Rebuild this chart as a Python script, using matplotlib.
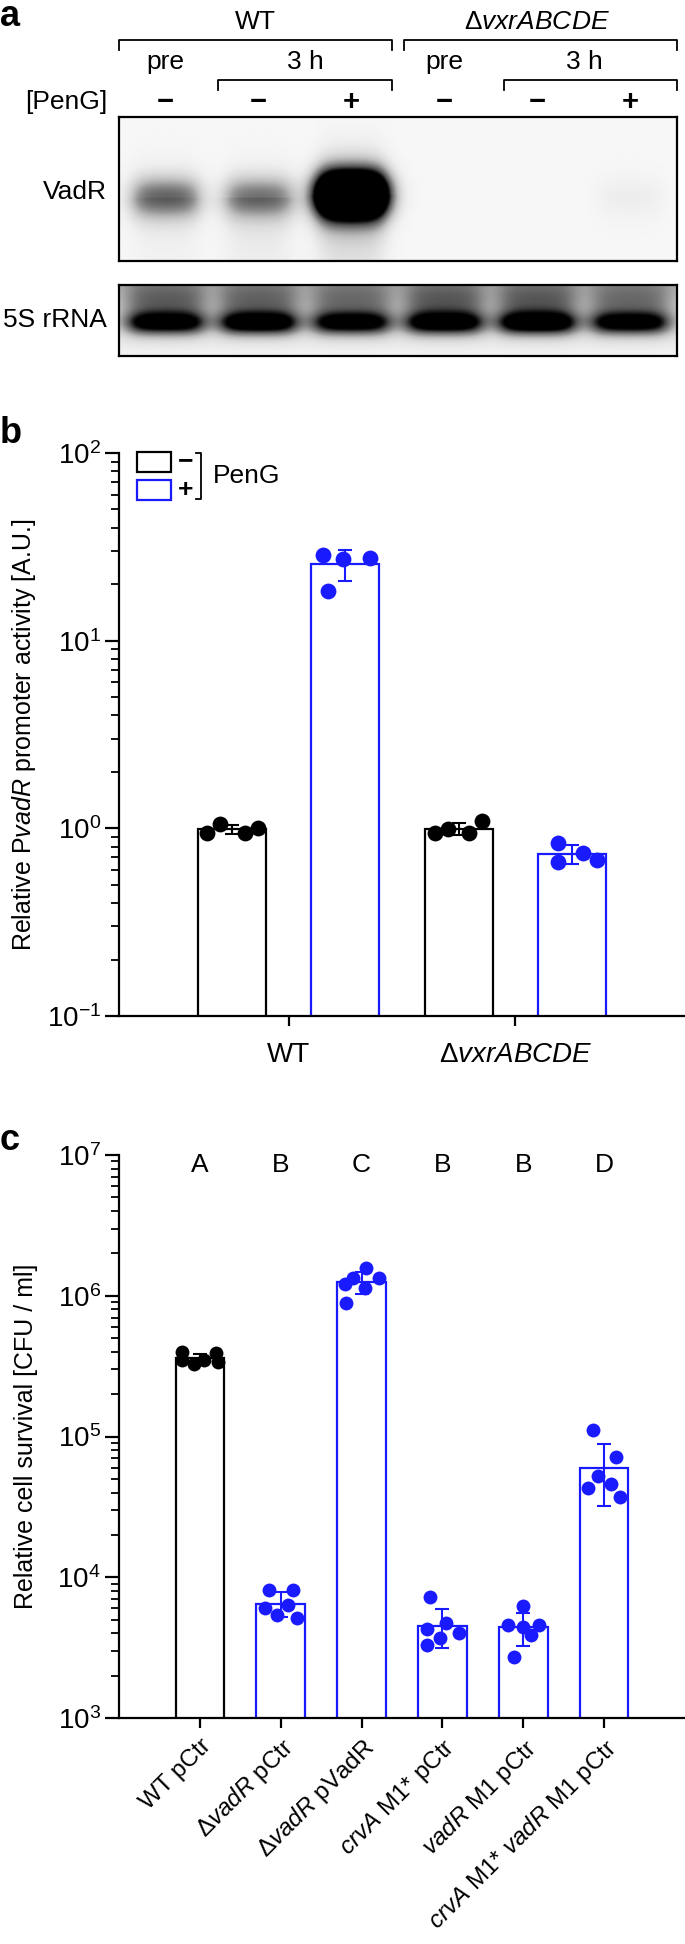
import numpy as np
import matplotlib
matplotlib.use("Agg")

import matplotlib.pyplot as plt
import matplotlib.patches as mpatches

plt.rcParams['font.family'] = ['Liberation Sans', 'DejaVu Sans']
plt.rcParams['mathtext.fontset'] = 'custom'
plt.rcParams['mathtext.rm'] = 'Liberation Sans'
plt.rcParams['mathtext.it'] = 'Liberation Sans:italic'
plt.rcParams['mathtext.bf'] = 'Liberation Sans:bold'
plt.rcParams['axes.unicode_minus'] = False

BLUE = '#1a1aff'

# ---- panel a: northern blot (band intensities per lane, 0 = none, >=1 saturated)
lane_signs = ['\u2212', '\u2212', '+', '\u2212', '\u2212', '+']
vadr_band = [0.55, 0.50, 2.5, 0.0, 0.0, 0.06]
vadr_halo = [0.08, 0.08, 0.30, 0.0, 0.0, 0.02]
vadr_smear = [0.04, 0.07, 0.12, 0.0, 0.0, 0.0]
rrna_band = [0.38, 0.36, 0.33, 0.40, 0.40, 0.33]
rrna_core = [0.85, 0.92, 0.85, 0.88, 0.95, 0.85]

# ---- panel b: relative PvadR promoter activity (4 replicates)
b_groups = ['WT', '\u0394$\\mathit{vxrABCDE}$']
b_wt_minus = [0.94, 1.06, 0.94, 1.01]
b_wt_plus = [28.7, 27.3, 27.6, 18.5]
b_del_minus = [0.94, 0.99, 0.94, 1.10]
b_del_plus = [0.84, 0.74, 0.68, 0.66]
b_jitter = [[-0.22, -0.11, 0.11, 0.23],
            [-0.20, -0.02, 0.22, -0.15],
            [-0.21, -0.09, 0.09, 0.21],
            [-0.12, 0.10, 0.22, -0.12]]

# ---- panel c: relative cell survival (6 replicates)
c_labels = ['WT pCtr',
            '\u0394$\\mathit{vadR}$ pCtr',
            '\u0394$\\mathit{vadR}$ pVadR',
            '$\\mathit{crvA}$ M1* pCtr',
            '$\\mathit{vadR}$ M1 pCtr',
            '$\\mathit{crvA}$ M1* $\\mathit{vadR}$ M1 pCtr']
c_letters = ['A', 'B', 'C', 'B', 'B', 'D']
c_wt = [4.0e5, 3.4e5, 3.3e5, 3.5e5, 3.9e5, 3.5e5]
c_dvadr = [8.1e3, 8.1e3, 6.0e3, 6.3e3, 5.4e3, 5.1e3]
c_dvadr_p = [1.22e6, 1.34e6, 1.57e6, 1.34e6, 1.14e6, 0.89e6]
c_crva = [7.2e3, 4.3e3, 4.7e3, 4.0e3, 3.7e3, 3.3e3]
c_vadr_m1 = [6.2e3, 4.6e3, 4.6e3, 3.9e3, 2.7e3, 4.4e3]
c_double = [1.12e5, 7.1e4, 5.2e4, 4.3e4, 4.6e4, 3.7e4]
c_jitter = [[-0.22, 0.22, -0.07, 0.05, 0.20, -0.22],
            [-0.14, 0.15, -0.20, 0.09, -0.04, 0.20],
            [-0.20, -0.10, 0.06, 0.21, 0.04, -0.19],
            [-0.15, -0.19, 0.04, 0.20, -0.03, -0.19],
            [0.00, -0.19, 0.20, 0.10, -0.12, 0.00],
            [-0.14, 0.15, -0.07, -0.20, 0.08, 0.19]]

W, H = 685, 1944
fig = plt.figure(figsize=(W / 100, H / 100), dpi=100)


def px_axes(x0, y0, x1, y1):
    return fig.add_axes([x0 / W, 1 - y1 / H, (x1 - x0) / W, (y1 - y0) / H])


# overlay for free text / brackets, in figure pixels
ov = fig.add_axes([0, 0, 1, 1], zorder=5)
ov.set_xlim(0, W)
ov.set_ylim(H, 0)
ov.axis("off")

TXT = 19
LAB = 20
YLAB = 18

# ---------------- panel a ----------------
ov.text(0, 16, "a", fontsize=26, fontweight="bold", va="center", ha="left")

blot_x0, blot_x1 = 119, 677
lane_w = (blot_x1 - blot_x0) / 6
lane_px = [blot_x0 + (i + 0.5) * lane_w for i in range(6)]

ov.text(255, 22, "WT", fontsize=TXT, ha="center", va="center")
ov.text(537, 22, "\u0394$\\mathit{vxrABCDE}$", fontsize=TXT, ha="center", va="center")
for x0, x1, y, d in [(119, 392, 40, 10), (404, 677, 40, 10),
                     (218, 392, 80, 10), (504, 677, 80, 10)]:
    ov.plot([x0, x0, x1, x1], [y + d, y, y, y + d], color="black", lw=1.3)
for i, lab in [(0, "pre"), (3, "pre")]:
    ov.text(lane_px[i], 62, lab, fontsize=TXT, ha="center", va="center")
ov.text((lane_px[1] + lane_px[2]) / 2, 62, "3 h", fontsize=TXT, ha="center", va="center")
ov.text((lane_px[4] + lane_px[5]) / 2, 62, "3 h", fontsize=TXT, ha="center", va="center")
ov.text(107, 102, "[PenG]", fontsize=TXT, ha="right", va="center")
for x, s in zip(lane_px, lane_signs):
    ov.text(x, 102, s, fontsize=TXT + 2, ha="center", va="center", fontweight="bold")
ov.text(107, 192, "VadR", fontsize=TXT, ha="right", va="center")
ov.text(107, 320, "5S rRNA", fontsize=TXT, ha="right", va="center")


def soft_lane(xx, centre, half, soft=0.07):
    return 1.0 / (1.0 + np.exp((np.abs(xx - centre) - half) / soft))


# VadR blot
ax_v = px_axes(blot_x0, 117, blot_x1, 261)
xx, yy = np.meshgrid(np.linspace(-0.5, 5.5, 600), np.linspace(0, 1, 150))
img = np.full_like(xx, 0.06)
for i in range(6):
    h = soft_lane(xx, i, 0.35)
    yc = 0.56 if i != 2 else 0.54
    sig = 0.10 if i != 2 else 0.11
    img += vadr_band[i] * h * np.exp(-0.5 * ((yy - yc) / sig) ** 2)
    img += vadr_halo[i] * h * np.exp(-0.5 * ((yy - yc) / 0.22) ** 2)
    img += vadr_smear[i] * h * (yy > yc)
ax_v.imshow(np.clip(img, 0, 1), cmap="Greys", vmin=0, vmax=1, aspect="auto",
            extent=(-0.5, 5.5, 1, 0), interpolation="bilinear")
ax_v.set_xticks([])
ax_v.set_yticks([])
for sp in ax_v.spines.values():
    sp.set_linewidth(1.6)

# 5S blot
ax_r = px_axes(blot_x0, 285, blot_x1, 356)
xx, yy = np.meshgrid(np.linspace(-0.5, 5.5, 600), np.linspace(0, 1, 80))
img = 0.40 - 0.30 * yy
for i in range(6):
    h = soft_lane(xx, i, 0.39)
    img += rrna_band[i] * h * np.exp(-0.5 * ((yy - 0.25) / 0.25) ** 2)
    img += rrna_core[i] * h * np.exp(-0.5 * ((yy - 0.54) / 0.11) ** 2)
ax_r.imshow(np.clip(img, 0, 1), cmap="Greys", vmin=0, vmax=1, aspect="auto",
            extent=(-0.5, 5.5, 1, 0), interpolation="bilinear")
ax_r.set_xticks([])
ax_r.set_yticks([])
for sp in ax_r.spines.values():
    sp.set_linewidth(1.6)


def style_log_axis(ax):
    ax.set_yscale("log")
    for s in ["top", "right"]:
        ax.spines[s].set_visible(False)
    for s in ["left", "bottom"]:
        ax.spines[s].set_linewidth(1.6)
    ax.tick_params(axis="y", which="major", length=10, width=1.6, labelsize=LAB, pad=3)
    ax.tick_params(axis="y", which="minor", length=6, width=1.3)
    ax.tick_params(axis="x", which="major", length=7, width=1.6, labelsize=LAB)
    ax.set_facecolor("none")


def draw_bar(ax, x, vals, jit, color, s):
    vals = np.asarray(vals)
    mean = vals.mean()
    sd = vals.std(ddof=1)
    ax.bar(x, mean, width=0.6, facecolor="white", edgecolor=color, linewidth=1.6, zorder=2)
    ax.errorbar(x, mean, yerr=sd, fmt="none", ecolor=color, elinewidth=1.5,
                capsize=5, capthick=1.5, zorder=3)
    ax.scatter(x + np.asarray(jit), vals, s=s, color=color, zorder=4, linewidths=0)


# ---------------- panel b ----------------
ov.text(0, 433, "b", fontsize=26, fontweight="bold", va="center", ha="left")
ax_b = px_axes(119, 453, 685, 1016)
style_log_axis(ax_b)
b_sets = [b_wt_minus, b_wt_plus, b_del_minus, b_del_plus]
b_colors = ["black", BLUE, "black", BLUE]
for i, (vals, col) in enumerate(zip(b_sets, b_colors)):
    draw_bar(ax_b, i, vals, b_jitter[i], col, 130)
ax_b.set_xlim(-1, 4)
ax_b.set_ylim(0.1, 100)
ax_b.set_xticks([0.5, 2.5])
ax_b.set_xticklabels(b_groups)
ax_b.tick_params(axis="x", pad=12)
ax_b.set_ylabel("Relative P$\\mathit{vadR}$ promoter activity [A.U.]", fontsize=YLAB)
ax_b.yaxis.set_label_coords(-0.143, 0.5)

# legend
ov.add_patch(mpatches.Rectangle((137, 452), 34, 20, fill=False, edgecolor="black", lw=1.6))
ov.add_patch(mpatches.Rectangle((137, 480), 34, 20, fill=False, edgecolor=BLUE, lw=1.6))
ov.text(186, 461, "\u2212", fontsize=19, fontweight="bold", ha="center", va="center")
ov.text(186, 490, "+", fontsize=19, fontweight="bold", ha="center", va="center")
ov.plot([196, 201, 201, 196], [453, 453, 499, 499], color="black", lw=1.3)
ov.text(213, 476, "PenG", fontsize=TXT, ha="left", va="center")

# ---------------- panel c ----------------
ov.text(0, 1140, "c", fontsize=26, fontweight="bold", va="center", ha="left")
ax_c = px_axes(119, 1155, 685, 1718)
style_log_axis(ax_c)
c_sets = [c_wt, c_dvadr, c_dvadr_p, c_crva, c_vadr_m1, c_double]
for i, vals in enumerate(c_sets):
    col = "black" if i == 0 else BLUE
    draw_bar(ax_c, i, vals, c_jitter[i], col, 100)
ax_c.set_xlim(-1, 6)
ax_c.set_ylim(1e3, 1e7)
ax_c.set_xticks(range(len(c_labels)))
ax_c.set_xticklabels(c_labels, rotation=45, ha="right", rotation_mode="anchor",
                     fontsize=17.5)
ax_c.tick_params(axis="x", pad=5)
for i, let in enumerate(c_letters):
    ax_c.text(i, 0.982, let, transform=ax_c.get_xaxis_transform(),
              fontsize=TXT, ha="center", va="center")
ax_c.set_ylabel("Relative cell survival [CFU / ml]", fontsize=YLAB)
ax_c.yaxis.set_label_coords(-0.143, 0.5)

fig.savefig("out.png", dpi=100)
plt.close(fig)
